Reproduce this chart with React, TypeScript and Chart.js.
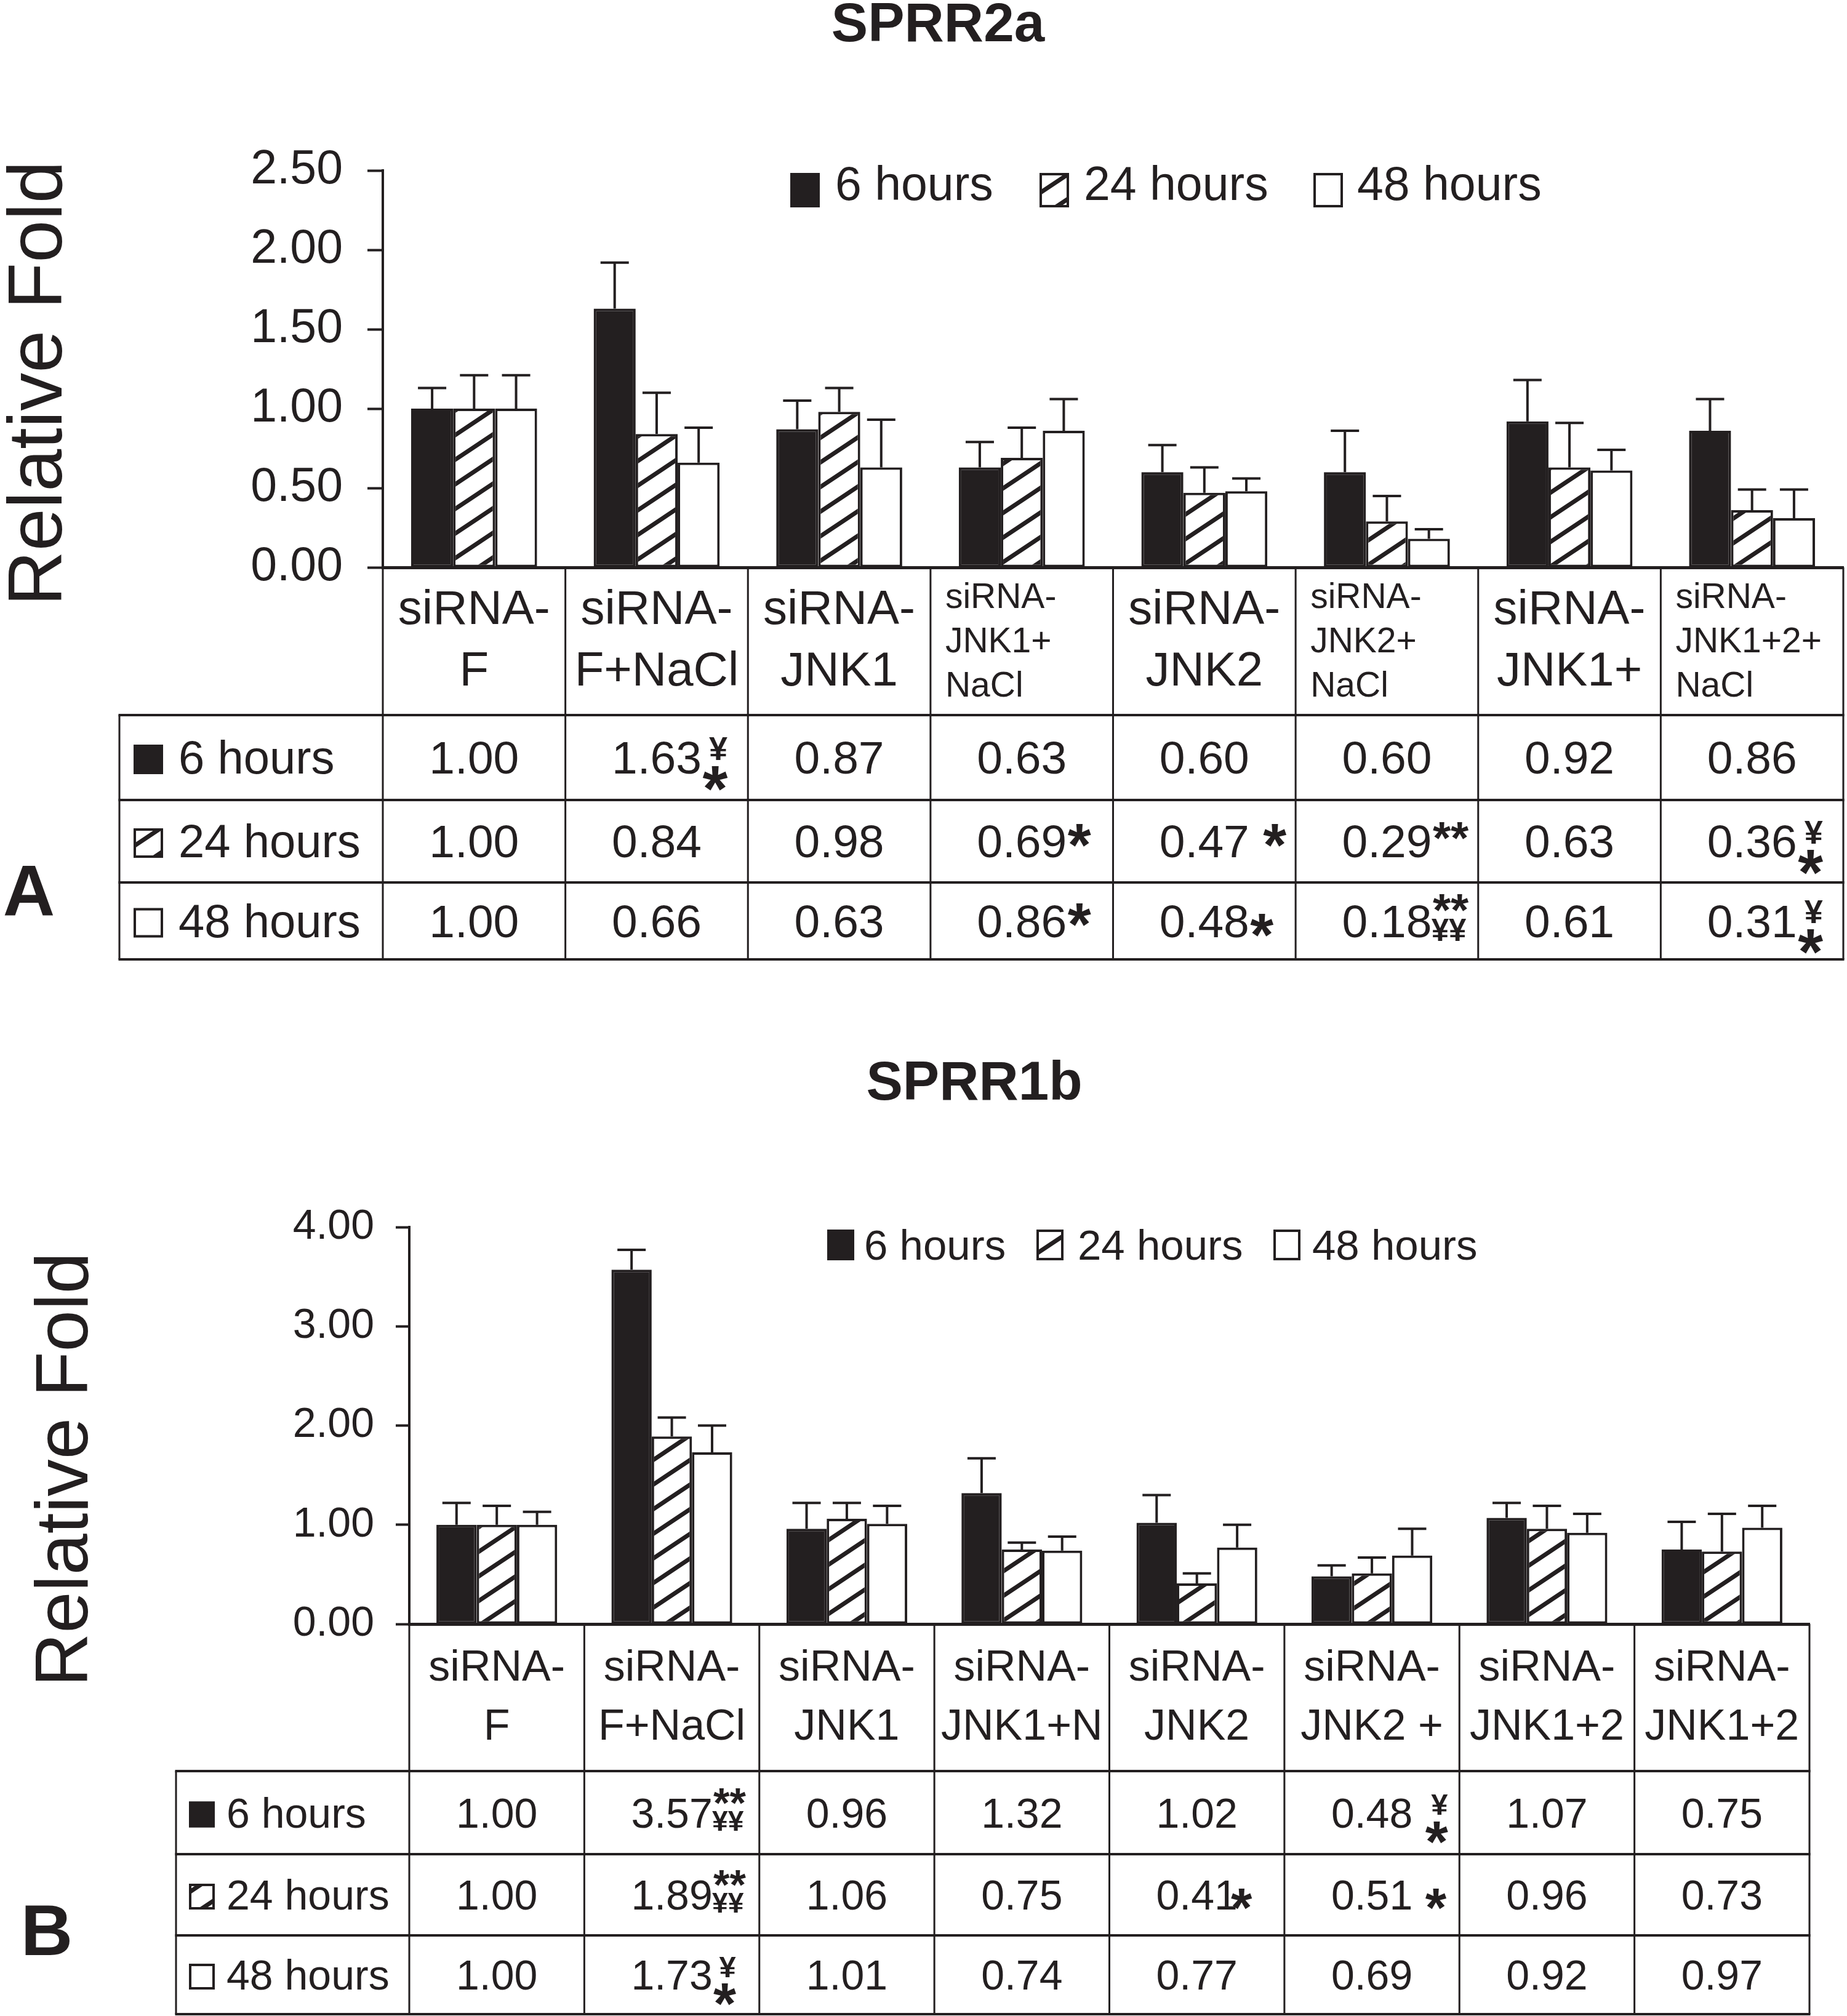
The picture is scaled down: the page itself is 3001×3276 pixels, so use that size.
import React, { useEffect, useRef } from 'react';
import { Chart, registerables } from 'chart.js';

Chart.register(...registerables);

const FONT = "'Liberation Sans', Arial, Helvetica, sans-serif";
const INK = '#231f20';

const seriesNames = ['6 hours', '24 hours', '48 hours'];

// ---------- Panel A : SPRR2a ----------
const titleA = 'SPRR2a';
const categoriesA = [
  ['siRNA-', 'F'],
  ['siRNA-', 'F+NaCl'],
  ['siRNA-', 'JNK1'],
  ['siRNA-', 'JNK1+', 'NaCl'],
  ['siRNA-', 'JNK2'],
  ['siRNA-', 'JNK2+', 'NaCl'],
  ['siRNA-', 'JNK1+'],
  ['siRNA-', 'JNK1+2+', 'NaCl'],
];
const hours6A = [1.0, 1.63, 0.87, 0.63, 0.6, 0.6, 0.92, 0.86];
const hours24A = [1.0, 0.84, 0.98, 0.69, 0.47, 0.29, 0.63, 0.36];
const hours48A = [1.0, 0.66, 0.63, 0.86, 0.48, 0.18, 0.61, 0.31];
const err6A = [0.13, 0.29, 0.18, 0.16, 0.17, 0.26, 0.26, 0.2];
const err24A = [0.21, 0.26, 0.15, 0.19, 0.16, 0.16, 0.28, 0.13];
const err48A = [0.21, 0.22, 0.3, 0.2, 0.08, 0.06, 0.13, 0.18];
const sig6A = ['', '¥*', '', '', '', '', '', ''];
const sig24A = ['', '', '', '*', ' *', '**', '', '¥*'];
const sig48A = ['', '', '', '*', '~*', '**¥¥', '', '¥*'];
const yTicksA = [0, 0.5, 1, 1.5, 2, 2.5];

// ---------- Panel B : SPRR1b ----------
const titleB = 'SPRR1b';
const categoriesB = [
  ['siRNA-', 'F'],
  ['siRNA-', 'F+NaCl'],
  ['siRNA-', 'JNK1'],
  ['siRNA-', 'JNK1+N'],
  ['siRNA-', 'JNK2'],
  ['siRNA-', 'JNK2 +'],
  ['siRNA-', 'JNK1+2'],
  ['siRNA-', 'JNK1+2'],
];
const hours6B = [1.0, 3.57, 0.96, 1.32, 1.02, 0.48, 1.07, 0.75];
const hours24B = [1.0, 1.89, 1.06, 0.75, 0.41, 0.51, 0.96, 0.73];
const hours48B = [1.0, 1.73, 1.01, 0.74, 0.77, 0.69, 0.92, 0.97];
const err6B = [0.22, 0.2, 0.26, 0.35, 0.28, 0.11, 0.15, 0.28];
const err24B = [0.19, 0.19, 0.16, 0.07, 0.1, 0.16, 0.23, 0.38];
const err48B = [0.13, 0.27, 0.18, 0.14, 0.23, 0.27, 0.19, 0.22];
const sig6B = ['', '**¥¥', '', '', '', ' ¥*', '', ''];
const sig24B = ['', '**¥¥', '', '', '~<*', '~ *', '', ''];
const sig48B = ['', '¥*', '', '', '', '', '', ''];
const yTicksB = [0, 1, 2, 3, 4];

function makeHatch(): CanvasPattern | string {
  const W = 60, H = 40;
  const c = document.createElement('canvas');
  c.width = W;
  c.height = H;
  const g = c.getContext('2d');
  if (!g) return '#fff';
  g.fillStyle = '#fff';
  g.fillRect(0, 0, W, H);
  g.strokeStyle = INK;
  g.lineWidth = 7;
  for (const k of [-1, 0, 1]) {
    g.beginPath();
    g.moveTo(-W, 2 * H + k * H);
    g.lineTo(2 * W, -H + k * H);
    g.stroke();
  }
  const p = g.createPattern(c, 'repeat');
  return p || '#fff';
}

type Spec = {
  key: string;
  title: string;
  cats: string[][];
  values: number[][];
  errors: number[][];
  sigs: string[][];
  ticks: number[];
  height: number;
  area: { top: number; bottom: number; left: number; right: number };
  tickFont: number;
  tickLen: number;
  tickPad: number;
  titleX: number;
  titleBase: number;
  legend: { boxes: number[]; texts: number[]; cy: number; base: number; bw: number; bh: number; font: number };
  panel: { label: string; x: number; base: number };
  yTitle: { x: number; y: number; size: number };
  table: {
    left: number;
    headerBottom: number;
    rows: number[];
    font: number;
    labelFont: number;
    headFont: number;
    smallFont: number;
    base2: number[];
    base3: number[];
    iconX: number;
    icon: number;
    textX: number;
    baseOff: number;
  };
};

function drawAnnot(ctx: CanvasRenderingContext2D, code: string, xr: number, yb: number, fs: number) {
  if (!code) return;
  let s = code;
  let mid = false;
  let x = xr + fs * 0.02;
  if (s.startsWith('~')) {
    mid = true;
    s = s.slice(1);
  }
  if (s.startsWith('<')) {
    x -= fs * 0.18;
    s = s.slice(1);
  }
  if (s.startsWith(' ')) {
    x += fs * 0.28;
    s = s.slice(1);
  }
  ctx.textAlign = 'left';
  ctx.textBaseline = 'alphabetic';
  if (s === '*') {
    ctx.font = `bold ${1.3 * fs}px ${FONT}`;
    ctx.fillText('*', x, mid ? yb + 0.4 * fs : yb + 0.18 * fs);
  } else if (s === '**') {
    ctx.font = `bold ${fs}px ${FONT}`;
    ctx.fillText('**', x, yb - 0.08 * fs);
  } else if (s === '¥*') {
    ctx.font = `bold ${0.72 * fs}px ${FONT}`;
    ctx.fillText('¥', x + 0.14 * fs, yb - 0.3 * fs);
    ctx.font = `bold ${1.4 * fs}px ${FONT}`;
    ctx.fillText('*', x, yb + 0.81 * fs);
  } else if (s === '**¥¥') {
    ctx.font = `bold ${fs}px ${FONT}`;
    ctx.fillText('**', x, yb - 0.25 * fs);
    ctx.font = `bold ${0.68 * fs}px ${FONT}`;
    ctx.fillText('¥¥', x - 0.03 * fs, yb + 0.08 * fs);
  }
}

function drawIcon(ctx: CanvasRenderingContext2D, i: number, x: number, y: number, w: number, h: number, hatch: CanvasPattern | string) {
  ctx.save();
  ctx.fillStyle = i === 0 ? INK : i === 1 ? (hatch as any) : '#fff';
  ctx.fillRect(x, y, w, h);
  ctx.strokeStyle = INK;
  ctx.lineWidth = 4;
  ctx.strokeRect(x + 2, y + 2, w - 4, h - 4);
  ctx.restore();
}

function decorPlugin(spec: Spec, hatch: CanvasPattern | string) {
  return {
    id: 'decor' + spec.key,
    afterDatasetsDraw(chart: any) {
      const ctx: CanvasRenderingContext2D = chart.ctx;
      const ys = chart.scales.y;
      ctx.save();
      ctx.strokeStyle = INK;
      ctx.lineWidth = 4;
      spec.values.forEach((vals, i) => {
        const meta = chart.getDatasetMeta(i);
        meta.data.forEach((bar: any, j: number) => {
          const top = ys.getPixelForValue(vals[j] + spec.errors[i][j]);
          const x = bar.x;
          ctx.beginPath();
          ctx.moveTo(x, bar.y);
          ctx.lineTo(x, top);
          ctx.moveTo(x - 23, top);
          ctx.lineTo(x + 23, top);
          ctx.stroke();
        });
      });
      ctx.restore();
    },
    afterDraw(chart: any) {
      const ctx: CanvasRenderingContext2D = chart.ctx;
      const xs = chart.scales.x;
      const area = chart.chartArea;
      const t = spec.table;
      const n = spec.cats.length;
      const cw = (xs.right - xs.left) / n;
      ctx.save();
      ctx.fillStyle = INK;
      ctx.strokeStyle = INK;

      // title
      ctx.font = `bold 89px ${FONT}`;
      ctx.textAlign = 'center';
      ctx.textBaseline = 'alphabetic';
      ctx.fillText(spec.title, spec.titleX, spec.titleBase);

      // y-axis title
      ctx.save();
      ctx.translate(spec.yTitle.x, spec.yTitle.y);
      ctx.rotate(-Math.PI / 2);
      ctx.font = `${spec.yTitle.size}px ${FONT}`;
      ctx.textAlign = 'center';
      ctx.fillText('Relative Fold', 0, 0);
      ctx.restore();

      // panel letter
      ctx.font = `bold 117px ${FONT}`;
      ctx.textAlign = 'center';
      ctx.fillText(spec.panel.label, spec.panel.x, spec.panel.base);

      // legend
      const L = spec.legend;
      seriesNames.forEach((name, i) => {
        drawIcon(ctx, i, L.boxes[i], L.cy - L.bh / 2, L.bw, L.bh, hatch);
        ctx.fillStyle = INK;
        ctx.font = `${L.font}px ${FONT}`;
        ctx.textAlign = 'left';
        ctx.fillText(name, L.texts[i], L.base);
      });

      // table lines
      const tableBottom = t.rows[t.rows.length - 1];
      ctx.lineWidth = 3;
      for (let k = 0; k <= n; k++) {
        const x = xs.left + k * cw;
        ctx.beginPath();
        ctx.moveTo(x, area.bottom);
        ctx.lineTo(x, tableBottom);
        ctx.stroke();
      }
      ctx.beginPath();
      ctx.moveTo(t.left, t.headerBottom);
      ctx.lineTo(t.left, tableBottom);
      ctx.stroke();
      ctx.lineWidth = 4;
      [t.headerBottom, ...t.rows].forEach((y) => {
        ctx.beginPath();
        ctx.moveTo(t.left - 1.5, y);
        ctx.lineTo(xs.right + 1.5, y);
        ctx.stroke();
      });

      // header labels
      spec.cats.forEach((lines, j) => {
        const cx = xs.left + (j + 0.5) * cw;
        if (lines.length === 2) {
          ctx.font = `${t.headFont}px ${FONT}`;
          ctx.textAlign = 'center';
          lines.forEach((ln, k) => ctx.fillText(ln, cx, area.bottom + t.base2[k]));
        } else {
          ctx.font = `${t.smallFont}px ${FONT}`;
          const mw = Math.max(...lines.map((ln) => ctx.measureText(ln).width));
          const x0 = Math.min(cx - mw / 2, xs.left + j * cw + 24);
          ctx.textAlign = 'left';
          lines.forEach((ln, k) => ctx.fillText(ln, x0, area.bottom + t.base3[k]));
        }
      });

      // rows
      const tops = [t.headerBottom, ...t.rows];
      seriesNames.forEach((name, i) => {
        const y0 = tops[i];
        const y1 = tops[i + 1];
        const cy = (y0 + y1) / 2;
        const yb = cy + t.baseOff;
        drawIcon(ctx, i, t.iconX, cy - t.icon / 2 + 3, t.icon, t.icon, hatch);
        ctx.fillStyle = INK;
        ctx.font = `${t.labelFont}px ${FONT}`;
        ctx.textAlign = 'left';
        ctx.fillText(name, t.textX, yb);
        spec.values[i].forEach((v, j) => {
          const cx = xs.left + (j + 0.5) * cw;
          const txt = v.toFixed(2);
          ctx.font = `${t.font}px ${FONT}`;
          ctx.textAlign = 'center';
          ctx.fillText(txt, cx, yb);
          const w = ctx.measureText(txt).width;
          drawAnnot(ctx, spec.sigs[i][j], cx + w / 2, yb, t.font);
        });
      });
      ctx.restore();
    },
  };
}

function buildChart(canvas: HTMLCanvasElement, spec: Spec) {
  const hatch = makeHatch();
  const fills = [INK, hatch as any, '#ffffff'];
  return new Chart(canvas, {
    type: 'bar',
    data: {
      labels: spec.cats.map((c) => c.join(' ')),
      datasets: seriesNames.map((name, i) => ({
        label: name,
        data: spec.values[i],
        backgroundColor: fills[i],
        borderColor: INK,
        borderWidth: 4,
        borderSkipped: false,
        categoryPercentage: 0.69,
        barPercentage: 1.0,
      })),
    },
    options: {
      responsive: false,
      animation: false,
      devicePixelRatio: 1,
      events: [],
      layout: {
        padding: {
          left: 0,
          top: spec.area.top,
          bottom: spec.height - spec.area.bottom,
          right: 3001 - spec.area.right,
        },
      },
      plugins: {
        legend: { display: false },
        title: { display: false },
        tooltip: { enabled: false },
      },
      scales: {
        x: {
          type: 'category',
          offset: true,
          grid: { display: false },
          border: { display: true, color: INK, width: 5 },
          ticks: { display: false },
          afterFit: (s: any) => {
            s.height = 0;
          },
        },
        y: {
          min: spec.ticks[0],
          max: spec.ticks[spec.ticks.length - 1],
          afterBuildTicks: (s: any) => {
            s.ticks = spec.ticks.map((v) => ({ value: v }));
          },
          afterFit: (s: any) => {
            s.width = spec.area.left;
          },
          ticks: {
            callback: (v: any) => Number(v).toFixed(2),
            font: { family: FONT, size: spec.tickFont },
            color: INK,
            padding: spec.tickPad,
          },
          grid: {
            drawOnChartArea: false,
            drawTicks: true,
            tickLength: spec.tickLen,
            tickWidth: 4,
            tickColor: INK,
          },
          border: { display: true, color: INK, width: 4 },
        },
      },
    },
    plugins: [decorPlugin(spec, hatch)],
  } as any);
}

const specA: Spec = {
  key: 'A',
  title: titleA,
  cats: categoriesA,
  values: [hours6A, hours24A, hours48A],
  errors: [err6A, err24A, err48A],
  sigs: [sig6A, sig24A, sig48A],
  ticks: yTicksA,
  height: 1640,
  area: { top: 277, bottom: 922, left: 622, right: 2995 },
  tickFont: 77,
  tickLen: 25,
  tickPad: 40,
  titleX: 1524,
  titleBase: 67,
  legend: { boxes: [1284, 1689, 2134], texts: [1357, 1761, 2205], cy: 309, base: 325, bw: 48, bh: 56, font: 77 },
  panel: { label: 'A', x: 47, base: 1488 },
  yTitle: { x: 100, y: 623, size: 124 },
  table: {
    left: 194,
    headerBottom: 1162,
    rows: [1300, 1434, 1559],
    font: 75,
    labelFont: 76,
    headFont: 78,
    smallFont: 57,
    base2: [92, 192],
    base3: [66, 138, 210],
    iconX: 217,
    icon: 48,
    textX: 290,
    baseOff: 26,
  },
};

const specB: Spec = {
  key: 'B',
  title: titleB,
  cats: categoriesB,
  values: [hours6B, hours24B, hours48B],
  errors: [err6B, err24B, err48B],
  sigs: [sig6B, sig24B, sig48B],
  ticks: yTicksB,
  height: 1636,
  area: { top: 354, bottom: 999, left: 665, right: 2940 },
  tickFont: 68,
  tickLen: 22,
  tickPad: 35,
  titleX: 1583,
  titleBase: 147,
  legend: { boxes: [1344, 1684, 2069], texts: [1404, 1751, 2132], cy: 383, base: 407, bw: 44, bh: 50, font: 69 },
  panel: { label: 'B', x: 76, base: 1537 },
  yTitle: { x: 142, y: 748, size: 121 },
  table: {
    left: 286,
    headerBottom: 1238,
    rows: [1373, 1505, 1633],
    font: 68,
    labelFont: 68,
    headFont: 70,
    smallFont: 56,
    base2: [92, 188],
    base3: [66, 138, 210],
    iconX: 307,
    icon: 42,
    textX: 368,
    baseOff: 24,
  },
};

export default function App() {
  const refA = useRef<HTMLCanvasElement>(null);
  const refB = useRef<HTMLCanvasElement>(null);

  useEffect(() => {
    if (!refA.current || !refB.current) return;
    const ca = buildChart(refA.current, specA);
    const cb = buildChart(refB.current, specB);
    return () => {
      ca.destroy();
      cb.destroy();
    };
  }, []);

  return (
    <div style={{ position: 'absolute', left: 0, top: 0, width: 3001, height: 3276, background: '#fff' }}>
      <canvas ref={refA} width={3001} height={1640} style={{ position: 'absolute', left: 0, top: 0, width: 3001, height: 1640 }} />
      <canvas ref={refB} width={3001} height={1636} style={{ position: 'absolute', left: 0, top: 1640, width: 3001, height: 1636 }} />
    </div>
  );
}
